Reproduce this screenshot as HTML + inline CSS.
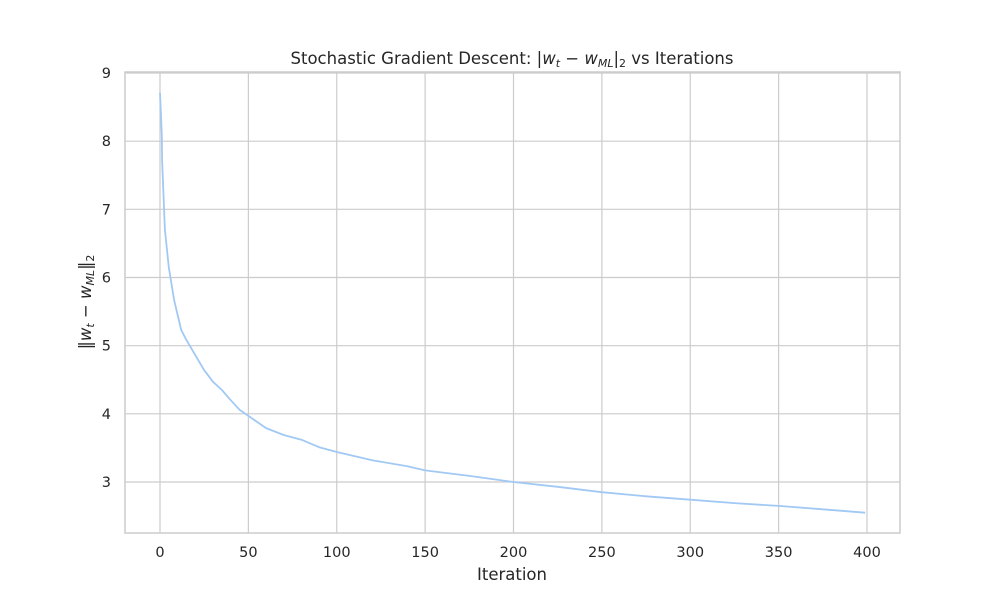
<!DOCTYPE html>
<html><head><meta charset="utf-8"><style>
body{margin:0;background:#fff;}
text{font-family:"DejaVu Sans","Liberation Sans",sans-serif;fill:#262626;}
</style></head><body>
<svg id="chart" width="1000" height="600" xmlns="http://www.w3.org/2000/svg">
<g id="grid"></g>
<rect x="125" y="72" width="775" height="461" fill="none" stroke="#cccccc" stroke-width="1.5"/>
<g id="marks"></g>
<g id="ticks"></g>
<text x="512" y="64" text-anchor="middle" font-size="16.5">Stochastic Gradient Descent: |<tspan font-style="italic">w</tspan><tspan font-style="italic" font-size="11" dy="3">t</tspan><tspan dy="-3"> − </tspan><tspan font-style="italic">w</tspan><tspan font-style="italic" font-size="11" dy="3">ML</tspan><tspan dy="-3">|</tspan><tspan font-size="11" dy="3">2</tspan><tspan dy="-3"> vs Iterations</tspan></text>
<text x="512" y="580" text-anchor="middle" font-size="16.5">Iteration</text>
<text transform="translate(91,302) rotate(-90)" text-anchor="middle" font-size="16.5">‖<tspan font-style="italic">w</tspan><tspan font-style="italic" font-size="11" dy="3">t</tspan><tspan dy="-3"> − </tspan><tspan font-style="italic">w</tspan><tspan font-style="italic" font-size="11" dy="3">ML</tspan><tspan dy="-3">‖</tspan><tspan font-size="11" dy="3">2</tspan></text>
</svg>
<script>
const iters=[0,1,1.2,2.8,5,8,12,15,20,25,30,35,40,45,50,55,60,70,80,90,100,120,140,150,175,200,225,250,275,300,325,350,375,399];
const errs=[8.71,8.1,7.72,6.7,6.15,5.67,5.23,5.08,4.86,4.64,4.47,4.35,4.2,4.06,3.97,3.88,3.79,3.69,3.62,3.51,3.44,3.32,3.23,3.17,3.09,3.0,2.93,2.85,2.79,2.74,2.69,2.65,2.6,2.55];
const xTicks=[0,50,100,150,200,250,300,350,400];
const yTicks=[3,4,5,6,7,8,9];
const sx=v=>160+v*(867-160)/400;
const sy=v=>482-(v-3)*(482-73)/6;
const NS="http://www.w3.org/2000/svg";
const grid=document.getElementById('grid'),ticks=document.getElementById('ticks'),marks=document.getElementById('marks');
function mk(tag,attrs,parent){const e=document.createElementNS(NS,tag);for(const k in attrs)e.setAttribute(k,attrs[k]);parent.appendChild(e);return e;}
xTicks.forEach(t=>{
 const l=mk('line',{x1:sx(t),x2:sx(t),y1:72,y2:533,stroke:'#cccccc','stroke-width':1.2},grid);
 
 
 const tx=mk('text',{x:sx(t),y:557,'text-anchor':'middle','font-size':14.5},ticks);
 tx.textContent=t;
 
 
});
yTicks.forEach(t=>{
 const l=mk('line',{x1:125,x2:900,y1:sy(t),y2:sy(t),stroke:'#cccccc','stroke-width':1.2},grid);
 
 
 const tx=mk('text',{x:111,y:sy(t)+5,'text-anchor':'end','font-size':14.5},ticks);
 tx.textContent=t;
 
 
});
const pts=iters.map((v,i)=>sx(v).toFixed(1)+','+sy(errs[i]).toFixed(1)).join(' ');
const pl=mk('polyline',{points:pts,fill:'none',stroke:'#a1c9f4','stroke-width':1.8,'stroke-linejoin':'round'},marks);


</script>
</body></html>
